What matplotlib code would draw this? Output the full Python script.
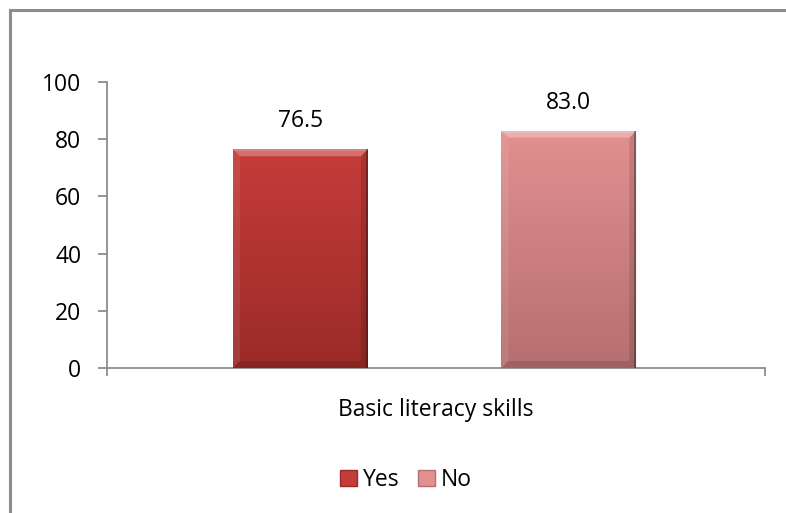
import numpy as np
import matplotlib.pyplot as plt
from matplotlib.patches import Rectangle, Polygon
from matplotlib.lines import Line2D
from matplotlib.colors import LinearSegmentedColormap

plt.rcParams['font.family'] = ['Open Sans', 'DejaVu Sans']

category = 'Basic literacy skills'
series = ['Yes', 'No']
values = [76.5, 83.0]
top_colors = ['#c53c3a', '#e29090']
bottom_colors = ['#9b2b28', '#b66f6f']
yticks = [0, 20, 40, 60, 80, 100]

W, H = 786, 513
FS = 16.5
fig = plt.figure(figsize=(W / 100, H / 100), dpi=100)
ax = fig.add_axes([107 / W, 1 - 368 / H, 658 / W, 286 / H])

centers = [0.294, 0.702]
width = 0.205
ax.set_xlim(0, 1)
ax.set_ylim(0, 100)

# pixel size in data units, used for the bevel edges
px_x = 1 / 658
px_y = 100 / 286

for i, (c, v) in enumerate(zip(centers, values)):
    x0, x1 = c - width / 2, c + width / 2
    bar = ax.bar(c, v, width=width, color=top_colors[i], label=series[i], zorder=2)[0]
    cmap = LinearSegmentedColormap.from_list('g%d' % i, [bottom_colors[i], top_colors[i]])
    grad = np.linspace(0, 1, 256).reshape(-1, 1)
    im = ax.imshow(grad, cmap=cmap, extent=[x0, x1, 0, v], origin='lower',
                   aspect='auto', zorder=3)
    im.set_clip_path(bar)
    b_x, b_y = 7 * px_x, 7 * px_y
    # top bevel
    ax.add_patch(Polygon([(x0, v), (x1, v), (x1 - b_x, v - b_y), (x0 + b_x, v - b_y)],
                         closed=True, color='white', alpha=0.28, lw=0, zorder=4))
    ax.add_patch(Rectangle((x0, v - 2 * px_y), width, 2 * px_y, color='white',
                           alpha=0.15, lw=0, zorder=4))
    # side and bottom shading
    ax.add_patch(Polygon([(x0, v), (x0 + b_x, v - b_y), (x0 + b_x, b_y), (x0, 0)],
                         closed=True, color='white', alpha=0.08, lw=0, zorder=4))
    ax.add_patch(Polygon([(x1, v), (x1 - b_x, v - b_y), (x1 - b_x, b_y), (x1, 0)],
                         closed=True, color='black', alpha=0.12, lw=0, zorder=4))
    ax.add_patch(Polygon([(x0, 0), (x0 + b_x, b_y), (x1 - b_x, b_y), (x1, 0)],
                         closed=True, color='black', alpha=0.12, lw=0, zorder=4))
    ax.add_patch(Rectangle((x1 - 2 * px_x, 0), 2 * px_x, v, color='black',
                           alpha=0.3, lw=0, zorder=4))
    ax.text(c, v + 5.5, '%.1f' % v, ha='center', va='bottom', fontsize=FS)

for s in ['top', 'right']:
    ax.spines[s].set_visible(False)
for s in ['left', 'bottom']:
    ax.spines[s].set_color('#8c8c8c')
    ax.spines[s].set_linewidth(1.3)

ax.set_yticks(yticks)
ax.tick_params(axis='y', length=6.5, width=1.3, color='#8c8c8c', labelsize=FS, pad=12)
ax.set_xticks([0, 1])
ax.set_xticklabels(['', ''])
ax.tick_params(axis='x', length=6, width=1.3, color='#8c8c8c')
fig.text(436 / W, 1 - 410 / H, category, ha='center', va='center', fontsize=FS)

handles = [Rectangle((0, 0), 1, 1, facecolor=top_colors[i], edgecolor=bottom_colors[i])
           for i in range(len(series))]
fig.legend(handles, series, loc='center', bbox_to_anchor=(406 / W, 1 - 480 / H),
           ncol=2, frameon=False, fontsize=FS, handlelength=0.75, handleheight=0.75,
           handletextpad=0.25, columnspacing=0.8)

# outer chart frame
fig.add_artist(Line2D([10 / W, 10 / W], [0, 1 - 10 / H], color='#8c8c8c', lw=2.2))
fig.add_artist(Line2D([10 / W, 1], [1 - 10 / H, 1 - 10 / H], color='#8c8c8c', lw=2.2))

fig.savefig('out.png', dpi=100)
